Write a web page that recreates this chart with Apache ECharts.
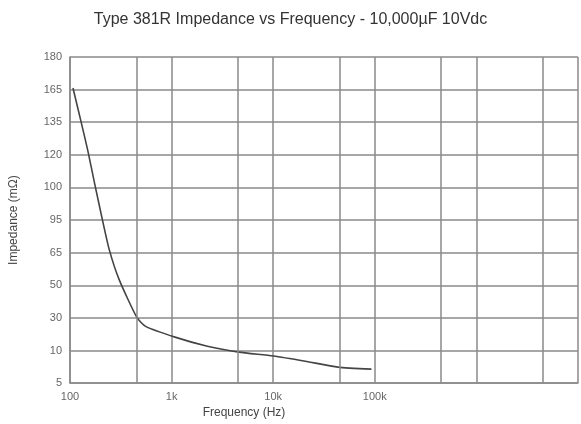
<!DOCTYPE html>
<html>
<head>
<meta charset="utf-8">
<script src="https://cdn.jsdelivr.net/npm/echarts@6/dist/echarts.min.js"></script>
<style>
  html, body { margin: 0; padding: 0; background: #fff; }
  #chart { width: 581px; height: 424px; }
</style>
</head>
<body>
<div id="chart"></div>
<script>
// y tick labels, bottom to top (axis runs on evenly spaced levels 0..10)
const yLabels = ['5', '10', '30', '50', '65', '95', '100', '120', '135', '165', '180']
// x tick labels shown on the log axis
const xLabels = { 100: '100', 1000: '1k', 10000: '10k', 100000: '100k' }
// extra vertical grid lines between the decades (Hz)
const midGrid = [450, 4500, 45000, 450000, 4500000]

// impedance curve: frequency (Hz) and level on the y axis
const freq = [107, 125, 149, 174, 208, 243, 304, 454, 555, 1080, 2250, 4600, 10000, 20700, 43400, 92600]
const level = [9.05, 8.17, 7.16, 6.15, 5.02, 4.1, 3.18, 2.02, 1.74, 1.41, 1.13, 0.95, 0.83, 0.67, 0.49, 0.43]

const gridColor = '#8a8a8a'
const labelColor = '#666666'
const font = '"Liberation Sans Narrow", "Liberation Sans", Arial, sans-serif'

const chart = echarts.init(document.getElementById('chart'))

chart.setOption({
  animation: false,
  textStyle: { fontFamily: font },
  title: {
    text: 'Type 381R Impedance vs Frequency - 10,000µF 10Vdc',
    left: 'center',
    top: 7,
    textStyle: {
      color: '#333333',
      fontWeight: 'normal',
      fontSize: 16,
      fontFamily: font
    }
  },
  grid: {
    left: 70,
    right: 0,
    top: 57,
    bottom: 39
  },
  xAxis: {
    type: 'log',
    logBase: 10,
    min: 100,
    max: 10000000,
    name: 'Frequency (Hz)',
    nameLocation: 'middle',
    nameGap: 22,
    nameTextStyle: {
      color: '#444444',
      fontSize: 12,
      padding: [0, 160, 0, 0]
    },
    axisLine: { lineStyle: { color: gridColor, width: 1.5 } },
    axisTick: { show: false },
    axisLabel: {
      color: labelColor,
      fontSize: 11,
      margin: 8,
      formatter: (v) => xLabels[Math.round(v)] || ''
    },
    splitLine: { show: true, lineStyle: { color: gridColor, width: 1.5 } }
  },
  yAxis: {
    type: 'value',
    min: 0,
    max: 10,
    interval: 1,
    name: 'Impedance (mΩ)',
    nameLocation: 'middle',
    nameGap: 50,
    nameTextStyle: { color: '#444444', fontSize: 12 },
    axisLine: { show: true, lineStyle: { color: gridColor, width: 1.5 } },
    axisTick: { show: false },
    axisLabel: {
      color: labelColor,
      fontSize: 11,
      margin: 8,
      formatter: (v) => yLabels[Math.round(v)]
    },
    splitLine: { show: true, lineStyle: { color: gridColor, width: 1.5 } }
  },
  series: [{
    type: 'line',
    data: freq.map((f, i) => [f, level[i]]),
    symbol: 'none',
    smooth: 0.2,
    lineStyle: { color: '#444444', width: 1.6 },
    markLine: {
      silent: true,
      symbol: 'none',
      label: { show: false },
      lineStyle: { color: gridColor, width: 1.5, type: 'solid' },
      data: midGrid.map((f) => ({ xAxis: f }))
    }
  }]
})
</script>
</body>
</html>
